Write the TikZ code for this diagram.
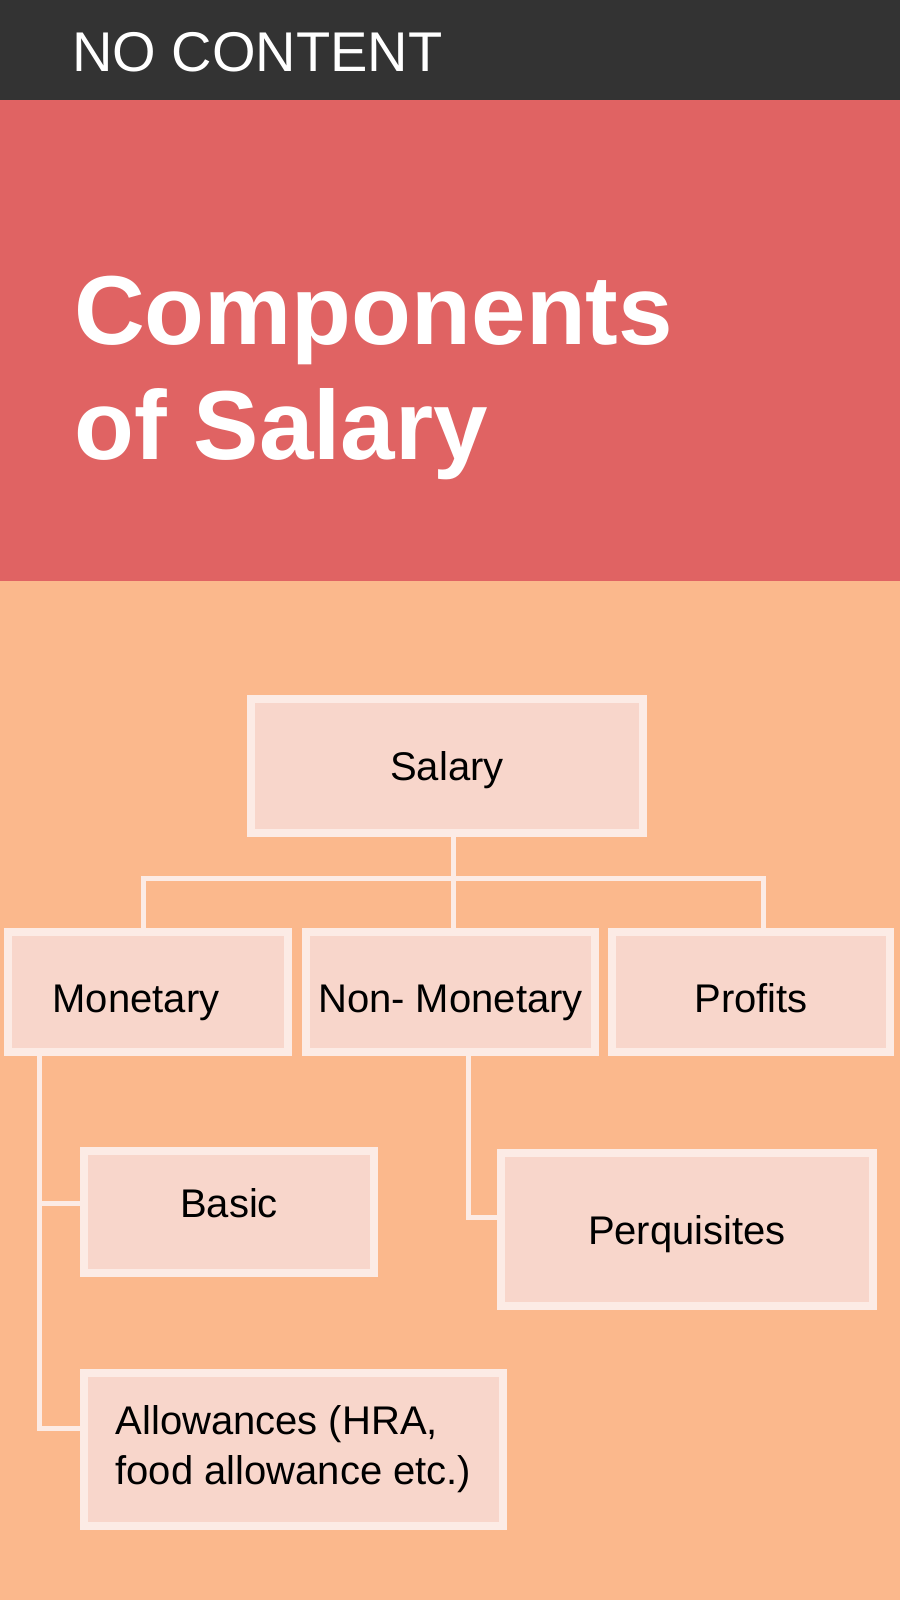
\documentclass[tikz,border=0pt]{standalone}
\usepackage{fontspec}
\setmainfont{Liberation Sans}
\usetikzlibrary{positioning}
\usetikzlibrary{calc}

\definecolor{barDark}{HTML}{333333}
\definecolor{bandRed}{HTML}{E06363}
\definecolor{bgOrange}{HTML}{FBB88C}
\definecolor{boxFill}{HTML}{F8D6CB}
\definecolor{boxLine}{HTML}{FCEBE5}

\tikzset{
    compbox/.style={rectangle, draw=boxLine, fill=boxFill, line width=8pt,
        inner sep=0pt, outer sep=0pt, text=black,
        font=\fontsize{40}{50}\selectfont},
    oneline/.style={text height=29pt, text depth=0pt},
    link/.style={draw=boxLine, line width=5pt, line join=miter}
}

\begin{document}
\begin{tikzpicture}[x=1pt,y=-1pt]
    \useasboundingbox (0,0) rectangle (900,1600);

    % the three bands
    \fill[barDark] (0,0) rectangle (900,100);
    \fill[bandRed] (0,100) rectangle (900,581);
    \fill[bgOrange] (0,581) rectangle (900,1600);

    % the headings
    \node[anchor=base west,inner sep=0pt,text=white,font=\fontsize{56}{60}\selectfont] (tag) at (72,72) {NO CONTENT};
    \node[anchor=base west,inner sep=0pt,text=white,font=\fontsize{98}{115}\selectfont\bfseries] (title1) at (74,344) {Components};
    \node[anchor=base west,inner sep=0pt,text=white,font=\fontsize{98}{115}\selectfont\bfseries] (title2) at ([yshift=-115pt]title1.base west) {of Salary};

    % the boxes
    \node[compbox,oneline,minimum width=392pt,minimum height=134pt] (salary) at (447,766) {Salary};
    \node[compbox,oneline,text height=41pt,minimum width=280pt,minimum height=120pt] (monetary) at (148,992) {Monetary\hspace*{24pt}};
    \node[compbox,oneline,text height=41pt,minimum width=289pt,minimum height=120pt] (nonmon) at (450.5,992) {Non- Monetary};
    \node[compbox,oneline,text height=41pt,minimum width=278pt,minimum height=120pt] (profits) at (751,992) {Profits};
    \node[compbox,oneline,text depth=18pt,minimum width=290pt,minimum height=122pt] (basic) at (229,1212) {Basic};
    \node[compbox,minimum width=419pt,minimum height=153pt,align=left] (allow) at (293.5,1449.5) {Allowances (HRA,\\food allowance etc.)};
    \node[compbox,oneline,minimum width=372pt,minimum height=153pt] (perq) at (687,1229.5) {Perquisites};

    % the connectors
    \coordinate (hub) at (453.5,878.5);
    \coordinate (lft) at (143.5,878.5);
    \coordinate (rgt) at (763.5,878.5);
    \draw[link] (hub |- salary.south) -- (hub |- nonmon.north);
    \draw[link] (lft |- monetary.north) -- (lft) -- (rgt) -- (rgt |- profits.north);

    \coordinate (mb) at (39.5,1203.5);
    \coordinate (ma) at (39.5,1428);
    \draw[link] (ma |- monetary.south) -- (ma) -- (ma -| allow.west);
    \draw[link] (mb) -- (mb -| basic.west);

    \coordinate (nk) at (468.5,1217.5);
    \draw[link] (nk |- nonmon.south) -- (nk) -- (nk -| perq.west);
\end{tikzpicture}
\end{document}
